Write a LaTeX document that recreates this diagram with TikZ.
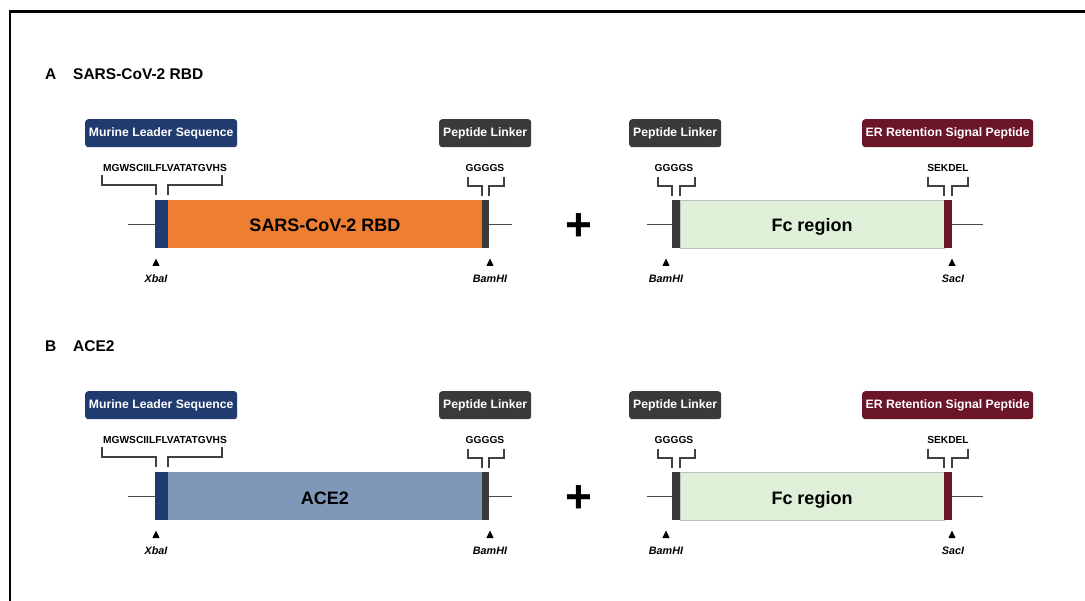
\documentclass[tikz,border=0pt]{standalone}
\usepackage{fontspec}
\setmainfont{Liberation Sans}
\definecolor{navy}{HTML}{1F3B6F}
\definecolor{orng}{HTML}{EE7E32}
\definecolor{dgray}{HTML}{3B3A3A}
\definecolor{maroon}{HTML}{6B1627}
\definecolor{slate}{HTML}{7F98B9}
\definecolor{fcgreen}{HTML}{DEF0D7}
\tikzset{
  title/.style={font=\fontsize{15.5}{16}\selectfont\bfseries, inner sep=0pt, anchor=base west},
  tag/.style={rounded corners=3pt, text=white, font=\fontsize{12.2}{13}\selectfont\bfseries,
    minimum height=28, inner sep=0pt, anchor=north west},
  seq/.style={font=\fontsize{10.2}{11}\selectfont\bfseries, inner sep=0pt},
  enz/.style={font=\fontsize{10.8}{11}\selectfont\bfseries\itshape, inner sep=0pt},
  seg/.style={inner sep=0pt, minimum height=48, anchor=north west},
  biglabel/.style={font=\fontsize{18}{18}\selectfont\bfseries, inner sep=0pt, anchor=base},
  bracket/.style={line width=1.2pt, draw=black!75},
  backbone/.style={line width=1.5pt, draw=black!70},
  plus/.style={font=\fontsize{46}{46}\selectfont\bfseries, inner sep=0pt}
}
\newcommand\tri[1]{\fill (#1) +(-3.6,0) -- +(3.6,0) -- +(0,-7.5) -- cycle;}
\newcommand\mkrow[5]{%
  % titles
  \node[title] (#1letter) at (45,80) {#2};
  \node[title] (#1title) at (73,80) {#3};
  % tag boxes
  \node[tag, fill=navy, minimum width=152] (#1lead) at (85,119) {Murine Leader Sequence};
  \node[tag, fill=dgray, minimum width=92] (#1linkA) at (439,119) {Peptide Linker};
  \node[tag, fill=dgray, minimum width=92] (#1linkB) at (629,119) {Peptide Linker};
  \node[tag, fill=maroon, minimum width=171] (#1er) at (862,119) {ER Retention Signal Peptide};
  % sequence texts
  \node[seq] (#1sq1) at (165,168) {MGWSCIILFLVATATGVHS};
  \node[seq] (#1sq2) at (485,168) {GGGGS};
  \node[seq] (#1sq3) at (674,168) {GGGGS};
  \node[seq] (#1sq4) at (948,168) {SEKDEL};
  % first construct
  \node[seg, fill=navy, minimum width=13] (#1sig) at (155,200) {};
  \node[seg, fill=#5, minimum width=314] (#1main) at (168,200) {};
  \node[biglabel] (#1mainlbl) at (325,232) {#4};
  \node[seg, fill=dgray, minimum width=7] (#1lk1) at (482,200) {};
  \coordinate (#1l0) at (128,224.5);
  \coordinate (#1r0) at (512,224.5);
  \draw[backbone] (#1l0) -- (#1l0 -| #1sig.west);
  \draw[backbone] (#1r0 -| #1lk1.east) -- (#1r0);
  % second construct
  \node[seg, fill=dgray, minimum width=8] (#1lk2) at (672,200) {};
  \node[seg, fill=fcgreen, draw=black!25, line width=0.6pt, minimum width=264] (#1fc) at (680,200) {};
  \node[biglabel] (#1fclbl) at (812,232) {Fc region};
  \node[seg, fill=maroon, minimum width=8] (#1kdel) at (944,200) {};
  \coordinate (#1l1) at (647,224.5);
  \coordinate (#1r1) at (983,224.5);
  \draw[backbone] (#1l1) -- (#1l1 -| #1lk2.west);
  \draw[backbone] (#1r1 -| #1kdel.east) -- (#1r1);
  % plus
  \node[plus] (#1plus) at (579,227) {+};
  % brackets
  \draw[bracket] (102,175) -- (102,185) -- (156,185) -- (156,195);
  \draw[bracket] (168,195) -- (168,185) -- (222,185) -- (222,175);
  \draw[bracket] (468,177) -- (468,186) -- (482,186) -- (482,196);
  \draw[bracket] (489,196) -- (489,186) -- (504,186) -- (504,177);
  \draw[bracket] (658,177) -- (658,186) -- (672,186) -- (672,196);
  \draw[bracket] (680,196) -- (680,186) -- (695,186) -- (695,177);
  \draw[bracket] (928,177) -- (928,186) -- (944,186) -- (944,196);
  \draw[bracket] (952,196) -- (952,186) -- (968,186) -- (968,177);
  % restriction sites
  \coordinate (#1t1) at (156,266); \tri{#1t1}
  \coordinate (#1t2) at (490,266); \tri{#1t2}
  \coordinate (#1t3) at (666,266); \tri{#1t3}
  \coordinate (#1t4) at (952,266); \tri{#1t4}
  \node[enz] (#1e1) at (156,279) {XbaI};
  \node[enz] (#1e2) at (490,279) {BamHI};
  \node[enz] (#1e3) at (666,279) {BamHI};
  \node[enz] (#1e4) at (953,279) {SacI};
}
\begin{document}
\begin{tikzpicture}[x=1pt,y=-1pt]
  \useasboundingbox (0,0) rectangle (1085,601);
  \clip (0,0) rectangle (1085,601);
  \fill[white] (0,0) rectangle (1085,601);
  \draw[line width=2.2pt] (9.8,620) -- (9.8,11.6) -- (1100,11.6);
  \mkrow{a}{A}{SARS-CoV-2 RBD}{SARS-CoV-2 RBD}{orng}
  \begin{scope}[shift={(0,272)}]
    \mkrow{b}{B}{ACE2}{ACE2}{slate}
  \end{scope}
\end{tikzpicture}
\end{document}
